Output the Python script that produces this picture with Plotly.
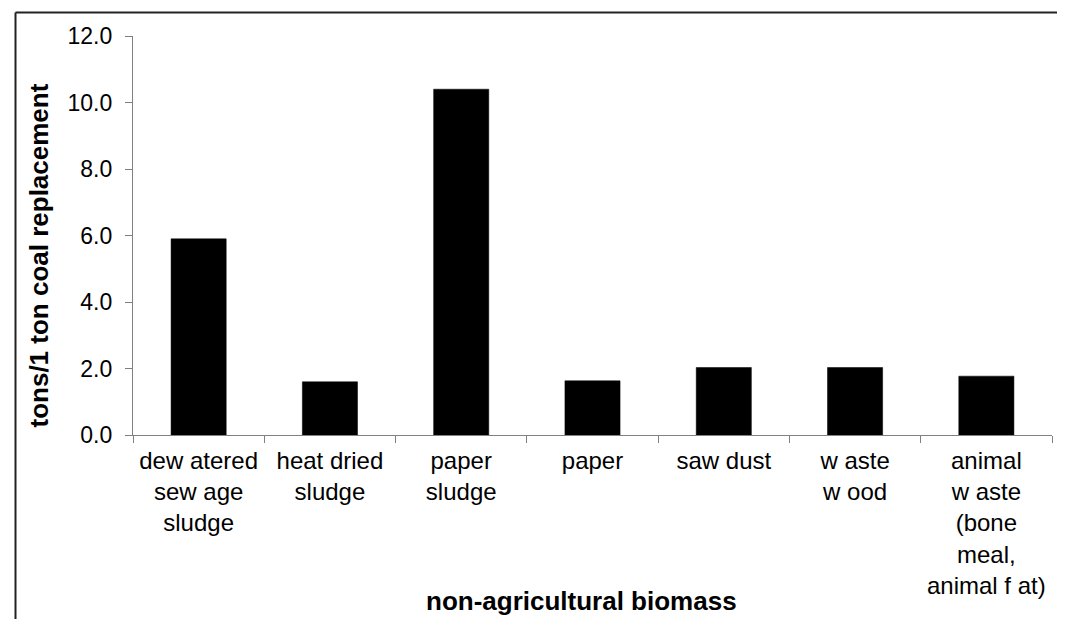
import plotly.graph_objects as go

categories = [
    "dew atered<br>sew age<br>sludge",
    "heat dried<br>sludge",
    "paper<br>sludge",
    "paper",
    "saw dust",
    "w aste<br>w ood",
    "animal<br>w aste<br>(bone<br>meal,<br>animal f at)",
]
values = [5.9, 1.6, 10.4, 1.63, 2.03, 2.03, 1.77]
y_tick_vals = [0, 2, 4, 6, 8, 10, 12]
y_title = "tons/1 ton coal replacement"
x_title = "non-agricultural biomass"

W, H = 1065, 619
L, R, T, B = 125, 21, 28, 192
pw = W - L - R
ph = H - T - B

def px_x(p):
    return (p - L) / pw

def px_y(p):
    return (H - B - p) / ph

fig = go.Figure(
    go.Bar(
        x=categories,
        y=values,
        marker=dict(color="black", line=dict(color="black", width=0.5)),
        hoverinfo="skip",
    )
)

axis_col = "#808080"
font_family = "Liberation Sans, Arial, sans-serif"

fig.update_layout(
    width=W,
    height=H,
    margin=dict(l=L, r=R, t=T, b=B),
    paper_bgcolor="white",
    plot_bgcolor="white",
    bargap=0.58,
    showlegend=False,
    font=dict(family=font_family, color="black", size=23),
    xaxis=dict(
        type="category",
        tickson="boundaries",
        ticks="outside",
        ticklen=7,
        tickcolor=axis_col,
        showline=True,
        linecolor=axis_col,
        linewidth=1.2,
        showgrid=False,
        tickfont=dict(size=24, color="black"),
        tickangle=0,
        ticklabelstandoff=4,
    ),
    yaxis=dict(
        range=[0, 12],
        tickvals=y_tick_vals,
        tickformat=".1f",
        ticks="outside",
        ticklen=7,
        tickcolor=axis_col,
        showline=True,
        linecolor=axis_col,
        linewidth=1.2,
        showgrid=False,
        zeroline=False,
        tickfont=dict(size=23, color="black"),
        ticklabelstandoff=8,
    ),
    annotations=[
        dict(
            text="<b>" + y_title + "</b>",
            xref="paper", yref="paper",
            x=px_x(30), y=px_y(247.5),
            textangle=-90,
            showarrow=False,
            font=dict(size=26, color="black", family=font_family),
            xanchor="center", yanchor="middle",
        ),
        dict(
            text="<b>" + x_title + "</b>",
            xref="paper", yref="paper",
            x=px_x(573.3), y=px_y(593),
            showarrow=False,
            font=dict(size=26, color="black", family=font_family),
            xanchor="center", yanchor="middle",
        ),
    ],
    shapes=[
        dict(type="line", xref="paper", yref="paper",
             x0=px_x(7.5), x1=px_x(W + 5), y0=px_y(4.5), y1=px_y(4.5),
             line=dict(color="#222222", width=2)),
        dict(type="line", xref="paper", yref="paper",
             x0=px_x(7.5), x1=px_x(7.5), y0=px_y(4.5), y1=px_y(H + 5),
             line=dict(color="#222222", width=2)),
    ],
)

fig.write_html("out.html")
